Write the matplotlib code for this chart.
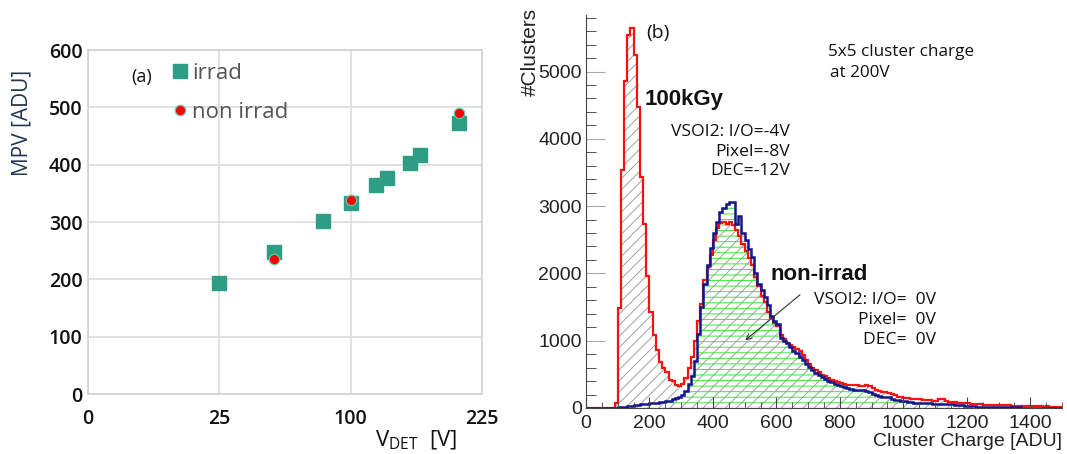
import numpy as np
import matplotlib
matplotlib.use('Agg')
import matplotlib.pyplot as plt
from matplotlib.ticker import MultipleLocator

W, H = 1067, 454

# (a) MPV vs detector bias
irrad_v = [25, 50, 80, 100, 120, 130, 150, 160, 200]
irrad_mpv = [194, 247, 302, 333, 364, 377, 403, 417, 472]
nonirrad_v = [50, 100, 200]
nonirrad_mpv = [235, 338, 490]
v_ticks = [0, 25, 100, 225]
mpv_ticks = [0, 100, 200, 300, 400, 500, 600]

# (b) 5x5 cluster charge, 10 ADU bins from 0 to 1500
edges = np.arange(0, 1510, 10)
irrad_counts = [
    0, 0, 0, 0, 0, 0, 0, 0, 0, 80,
    1480, 3540, 4860, 5540, 5640, 5250, 4480, 3440, 2740, 1960,
    1430, 1080, 860, 690, 590, 540, 420, 400, 340, 320,
    360, 450, 600, 760, 1000, 1300, 1550, 1900, 2100, 2280,
    2500, 2680, 2750, 2760, 2740, 2760, 2720, 2650, 2550, 2430,
    2330, 2230, 2130, 1950, 1810, 1660, 1580, 1420, 1340, 1260,
    1220, 1080, 1020, 970, 940, 910, 880, 840, 790, 720,
    650, 600, 570, 530, 495, 470, 445, 420, 395, 380,
    367, 355, 345, 342, 340, 335, 320, 330, 340, 330,
    290, 267, 255, 245, 240, 220, 208, 190, 170, 160,
    150, 145, 140, 140, 135, 130, 125, 120, 115, 110,
    105, 140, 140, 100, 95, 90, 85, 80, 75, 70,
    68, 65, 60, 58, 55, 52, 50, 48, 46, 44,
    42, 40, 40, 38, 36, 35, 34, 32, 30, 30,
    30, 28, 25, 30, 22, 25, 20, 20, 22, 20,
]
nonirrad_counts = [
    3, 3, 3, 3, 3, 3, 3, 3, 3, 5,
    10, 15, 20, 25, 30, 40, 50, 55, 60, 65,
    70, 75, 80, 85, 90, 100, 110, 130, 150, 170,
    200, 260, 360, 480, 700, 1100, 1500, 1850, 2120, 2380,
    2600, 2770, 2920, 2970, 3030, 3060, 3060, 2740, 2850, 2600,
    2500, 2370, 2250, 2000, 1850, 1750, 1650, 1530, 1360, 1290,
    1250, 1040, 1000, 960, 900, 850, 810, 760, 715, 660,
    610, 570, 520, 490, 460, 430, 405, 385, 360, 340,
    320, 305, 295, 285, 270, 265, 268, 268, 250, 243,
    215, 193, 180, 169, 162, 159, 140, 125, 119, 110,
    100, 95, 85, 80, 75, 75, 72, 70, 68, 65,
    65, 62, 60, 58, 56, 55, 50, 45, 40, 35,
    30, 28, 25, 22, 20, 18, 15, 15, 12, 12,
    10, 10, 10, 8, 8, 8, 8, 6, 6, 6,
    5, 5, 6, 5, 5, 6, 5, 5, 5, 5,
]

plt.rcParams['hatch.linewidth'] = 0.7

fig = plt.figure(figsize=(W / 100, H / 100), dpi=100)


def fx(x):
    return x / W


def fy(y):
    return 1 - y / H


# ---------------- panel (a) ----------------
ax1 = fig.add_axes([fx(88), fy(394), (482 - 88) / W, (394 - 50) / H])
ax1.set_xscale('function', functions=(lambda x: np.sqrt(np.clip(x, 0, None)),
                                      lambda x: x ** 2))
ax1.set_xlim(0, 225)
ax1.set_ylim(0, 600)
ax1.set_xticks(v_ticks)
ax1.set_yticks(mpv_ticks)
ax1.xaxis.set_minor_locator(plt.NullLocator())
ax1.grid(True, color='#dedede', lw=1.3)
ax1.set_axisbelow(True)
for s in ax1.spines.values():
    s.set_color('#d4d4d4')
    s.set_linewidth(1.3)
ax1.tick_params(length=0, labelsize=14, labelcolor='#111111')
ax1.tick_params(axis='x', pad=11)
ax1.tick_params(axis='y', pad=4)
for lab in ax1.get_xticklabels() + ax1.get_yticklabels():
    lab.set_family('Open Sans')
    lab.set_weight('semibold')

ax1.plot(irrad_v, irrad_mpv, 's', ls='none', color='#2d9d83', ms=10.5,
         label='irrad')
ax1.plot(nonirrad_v, nonirrad_mpv, 'o', ls='none', mfc='#ff0000',
         mec='#62c8b2', mew=0.9, ms=7.5, label='non irrad')

leg = ax1.legend(loc='upper left', bbox_to_anchor=(fx(163), fy(52)),
                 bbox_transform=fig.transFigure, frameon=False,
                 handlelength=0.5, handletextpad=0.3, borderpad=0,
                 labelspacing=0.8, prop={'family': 'Open Sans', 'size': 16})
for t in leg.get_texts():
    t.set_color('#555555')

fig.text(fx(142), fy(77), '(a)', ha='center', va='center', fontsize=13,
         family='Open Sans', color='#111111')
fig.text(fx(22), fy(123), 'MPV [ADU]', rotation=90, ha='center', va='center',
         fontsize=15, family='Open Sans', color='#1f3550')
fig.text(fx(416), fy(440), r'V$_\mathregular{DET}$  [V]', ha='center',
         va='center', fontsize=16, family='Open Sans', color='#111111')

# ---------------- panel (b) ----------------
ax2 = fig.add_axes([fx(586), fy(408), (1062 - 586) / W, (408 - 15) / H])
ax2.set_xlim(0, 1500)
ax2.set_ylim(0, 5840)

irr = np.array(irrad_counts, dtype=float)
non = np.array(nonirrad_counts, dtype=float)
ax2.fill_between(edges, np.r_[irr, irr[-1]], step='post', facecolor='none',
                 edgecolor='#a0a0a0', hatch='///', lw=0)
ax2.fill_between(edges, np.r_[non, non[-1]], step='post', facecolor='none',
                 edgecolor='#3ce83c', hatch='---', lw=0)
ax2.stairs(irr, edges, color='#ff1010', lw=1.6)
ax2.stairs(non, edges, color='#14148c', lw=1.8)

ax2.spines['top'].set_visible(False)
ax2.spines['right'].set_visible(False)
ax2.spines['left'].set_color('#444444')
ax2.spines['bottom'].set_color('#444444')
ax2.xaxis.set_major_locator(MultipleLocator(200))
ax2.xaxis.set_minor_locator(MultipleLocator(50))
ax2.yaxis.set_major_locator(MultipleLocator(1000))
ax2.yaxis.set_minor_locator(MultipleLocator(200))
ax2.tick_params(which='both', direction='in', labelsize=14,
                labelcolor='#222222')
ax2.tick_params(axis='y', which='major', length=14, color='#aaaaaa', pad=3)
ax2.tick_params(axis='y', which='minor', length=7, color='#333333')
ax2.tick_params(axis='x', which='major', length=8, color='#444444', pad=5)
ax2.tick_params(axis='x', which='minor', length=4, color='#444444')
for lab in ax2.get_xticklabels() + ax2.get_yticklabels():
    lab.set_family('Liberation Sans')

fig.text(fx(530), fy(8), '#Clusters', rotation=90, ha='center', va='top',
         fontsize=15, family='Liberation Sans', color='#222222')
fig.text(fx(1062), fy(441), 'Cluster Charge [ADU]', ha='right', va='center',
         fontsize=14, family='Liberation Sans', color='#222222')

fig.text(fx(658), fy(33), '(b)', ha='center', va='center', fontsize=14,
         family='Open Sans', color='#111111')
fig.text(fx(828), fy(52), '5x5 cluster charge', ha='left', va='center',
         fontsize=12.3, family='Open Sans', color='#111111')
fig.text(fx(830), fy(73), 'at 200V', ha='left', va='center',
         fontsize=12.3, family='Open Sans', color='#111111')

fig.text(fx(645), fy(100), '100kGy', ha='left', va='center', fontsize=16,
         weight='bold', family='Liberation Sans', color='#111111')
for txt, yy in [('VSOI2: I/O=-4V', 132), ('Pixel=-8V', 152), ('DEC=-12V', 171)]:
    fig.text(fx(790), fy(yy), txt, ha='right', va='center', fontsize=12.6,
             family='Open Sans', color='#111111')

fig.text(fx(770), fy(275), 'non-irrad', ha='left', va='center', fontsize=16,
         weight='bold', family='Liberation Sans', color='#111111')
for txt, yy in [('VSOI2: I/O=  0V', 300), ('Pixel=  0V', 320), ('DEC=  0V', 340)]:
    fig.text(fx(936), fy(yy), txt, ha='right', va='center', fontsize=12.6,
             family='Open Sans', color='#111111')

ax2.annotate('', xy=(495, 980), xytext=(681, 1709),
             arrowprops=dict(arrowstyle='->', color='#333333', lw=0.8))

fig.savefig('out.png', dpi=100)
